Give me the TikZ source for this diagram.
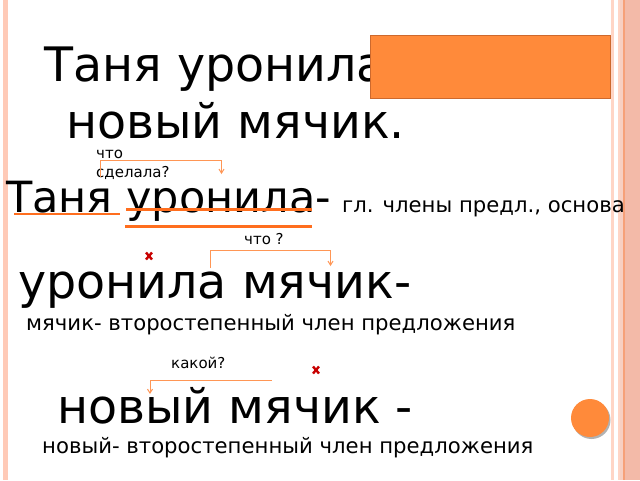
\documentclass[tikz,border=0pt]{standalone}
\usepackage{fontspec}
\setmainfont{DejaVu Sans}
\usetikzlibrary{arrows.meta}
\definecolor{boxor}{RGB}{255,138,58}
\definecolor{boxedge}{RGB}{205,105,45}
\definecolor{lineor}{RGB}{255,110,30}
\definecolor{brkor}{RGB}{255,150,85}
\definecolor{xred}{RGB}{200,0,0}
\definecolor{pale}{RGB}{255,202,183}
\definecolor{salmon}{RGB}{243,186,168}
\definecolor{stripor}{RGB}{246,160,120}
\tikzset{
  big/.style={anchor=base west, inner sep=0pt, font=\fontsize{47.5}{50}\selectfont},
  bigb/.style={anchor=base west, inner sep=0pt, font=\fontsize{43}{46}\selectfont},
  mid/.style={anchor=base west, inner sep=0pt, font=\fontsize{21.2}{23}\selectfont},
  small/.style={anchor=base west, inner sep=0pt, font=\fontsize{15}{16}\selectfont},
  uline/.style={draw=lineor, line width=2.6pt},
  brk/.style={draw=brkor, line width=1pt, -{Straight Barb[length=4pt,width=5pt]}},
  xmark/.style={draw=xred, line width=2.4pt},
}
\begin{document}
\begin{tikzpicture}[x=1pt,y=-1pt]
\useasboundingbox (0,0) rectangle (640,480);
\fill[white] (0,0) rectangle (640,480);
% borders
\fill[pale] (3,0) rectangle (7.5,480);
\fill[pale!80] (611,0) rectangle (614,480);
\fill[pale!80] (617.5,0) rectangle (619.5,480);
\fill[salmon!70] (620,0) rectangle (623,480);
\fill[stripor] (623,0) rectangle (625,480);
\fill[salmon] (625,0) rectangle (640,480);
% title
\node[big] (t1) at (44,81) {Таня уронила};
\node[big] (t2) at (66,138) {новый мячик.};
\node[draw=boxedge, fill=boxor, line width=0.8pt, minimum width=240pt, minimum height=63pt, inner sep=0pt, anchor=north west] (box) at (370,35) {};
% line 1
\node[small] (q1a) at (96,158) {что};
\node[small] (q1b) at (96,177) {сделала?};
\coordinate (b1s) at (100,177);
\coordinate (b1l) at (100,160.5);
\coordinate (b1r) at (221.5,160.5);
\coordinate (b1e) at (221.5,174);
\draw[brk] (b1s) -- (b1l) -- (b1r) -- (b1e);
\node[bigb] (s1) at (6,212) {Таня уронила-};
\node[mid] (s1c) at (342,212) {гл. члены предл., основа};
\coordinate (u1a) at (14,214); \coordinate (u1b) at (120,214);
\draw[uline] (u1a) -- (u1b);
\coordinate (u2a) at (126,209.5); \coordinate (u2b) at (312,209.5);
\draw[uline] (u2a) -- (u2b);
\coordinate (u3a) at (125,226.5); \coordinate (u3b) at (312,226.5);
\draw[uline] (u3a) -- (u3b);
% line 2
\node[small] (q2) at (244,244) {что ?};
\coordinate (x1) at (149,256);
\draw[xmark] ([shift={(-3,-3.5)}]x1) -- ([shift={(3,3.5)}]x1) ([shift={(-3,3.5)}]x1) -- ([shift={(3,-3.5)}]x1);
\coordinate (b2s) at (210,268);
\coordinate (b2l) at (210,250.5);
\coordinate (b2r) at (330.5,250.5);
\coordinate (b2e) at (330.5,266);
\draw[brk] (b2s) -- (b2l) -- (b2r) -- (b2e);
\node[big] (s2) at (18,298) {уронила мячик-};
\node[mid] (s2c) at (26,330) {мячик- второстепенный член предложения};
% line 3
\node[small] (q3) at (171,368) {какой?};
\coordinate (x2) at (316,370);
\draw[xmark] ([shift={(-3,-3.5)}]x2) -- ([shift={(3,3.5)}]x2) ([shift={(-3,3.5)}]x2) -- ([shift={(3,-3.5)}]x2);
\coordinate (b3s) at (271.5,380);
\coordinate (b3l) at (150,380);
\coordinate (b3e) at (150,394);
\draw[brk] (b3s) -- (b3l) -- (b3e);
\node[big] (s3) at (57,423) {новый мячик -};
\node[mid] (s3c) at (42,453) {новый- второстепенный член предложения};
% circle
\fill[gray!60] (591.5,420) circle (19);
\node[circle, fill=boxor, minimum size=38pt, inner sep=0pt] (c) at (590,418) {};
\end{tikzpicture}
\end{document}
